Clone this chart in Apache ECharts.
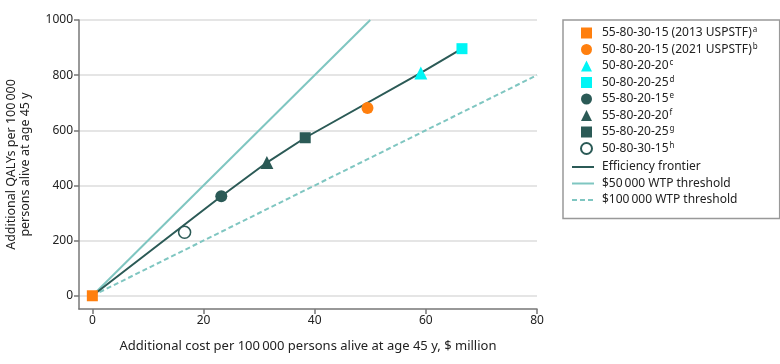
<!DOCTYPE html>
<html>
<head>
<meta charset="utf-8">
<script src="https://cdn.jsdelivr.net/npm/echarts@6/dist/echarts.min.js"></script>
<style>
  html, body { margin: 0; padding: 0; background: #fff; }
  #chart { width: 780px; height: 364px; }
</style>
</head>
<body>
<div id="chart"></div>
<script>
// screening schemes and their outcomes
const schemeNames = [
  "55-80-30-15 (2013 USPSTF)",
  "50-80-20-15 (2021 USPSTF)",
  "50-80-20-20",
  "50-80-20-25",
  "55-80-20-15",
  "55-80-20-20",
  "55-80-20-25",
  "50-80-30-15"
];
const schemeNotes = ["a", "b", "c", "d", "e", "f", "g", "h"];
const schemeCost = [0, 49.5, 59.1, 66.5, 23.2, 31.4, 38.3, 16.6];
const schemeQaly = [0, 681, 808, 896, 361, 483, 573, 230];

// which schemes sit on the efficiency frontier, in order
const frontierIdx = [0, 4, 5, 6, 2, 3];

// willingness-to-pay threshold lines
const wtp50Cost = [0, 50];
const wtp50Qaly = [0, 1000];
const wtp100Cost = [0, 80];
const wtp100Qaly = [0, 800];

const xTicks = [0, 20, 40, 60, 80];
const yTicks = [0, 200, 400, 600, 800, 1000];

const lineNames = [
  "Efficiency frontier",
  "$50\u2009000 WTP threshold",
  "$100\u2009000 WTP threshold"
];

const ORANGE = "#ff7f0e";
const CYAN = "#00f5f5";
const TEAL = "#2b5a56";
const LIGHT = "#7fc6c1";
const FONT = "Noto Sans";
const TXT = "#222";

const markerStyle = [
  { symbol: "rect", color: ORANGE },
  { symbol: "circle", color: ORANGE },
  { symbol: "triangle", color: CYAN },
  { symbol: "rect", color: CYAN },
  { symbol: "circle", color: TEAL },
  { symbol: "triangle", color: TEAL },
  { symbol: "rect", color: TEAL },
  { symbol: "circle", color: "#fff", border: TEAL }
];

const chart = echarts.init(document.getElementById("chart"), null, { renderer: "canvas" });

const series = [];

series.push({
  name: lineNames[0],
  type: "line",
  data: frontierIdx.map(i => [schemeCost[i], schemeQaly[i]]),
  symbol: "none",
  lineStyle: { color: TEAL, width: 2 },
  itemStyle: { color: TEAL },
  z: 3
});
series.push({
  name: lineNames[1],
  type: "line",
  data: wtp50Cost.map((c, i) => [c, wtp50Qaly[i]]),
  symbol: "none",
  lineStyle: { color: LIGHT, width: 2 },
  itemStyle: { color: LIGHT },
  z: 2
});
series.push({
  name: lineNames[2],
  type: "line",
  data: wtp100Cost.map((c, i) => [c, wtp100Qaly[i]]),
  symbol: "none",
  lineStyle: { color: LIGHT, width: 2, type: [5, 3] },
  itemStyle: { color: LIGHT },
  z: 2
});

schemeNames.forEach((name, i) => {
  const m = markerStyle[i];
  series.push({
    name: name,
    type: "scatter",
    data: [[schemeCost[i], schemeQaly[i]]],
    symbol: m.symbol,
    symbolSize: m.symbol === "triangle" ? 13 : (m.symbol === "rect" ? 11 : 12),
    itemStyle: {
      color: m.color,
      borderColor: m.border || m.color,
      borderWidth: m.border ? 1.5 : 0,
      opacity: 1
    },
    z: 5
  });
});

const rich = {
  n: { fontSize: 12, fontFamily: FONT, color: TXT, lineHeight: 14 },
  s: { fontSize: 8, fontFamily: FONT, color: TXT, padding: [0, 0, 6, 1], lineHeight: 14 }
};

chart.setOption({
  animation: false,
  backgroundColor: "#fff",
  textStyle: { fontFamily: FONT },
  grid: {
    left: 79, right: 243, top: 20, bottom: 55,
    containLabel: false,
    outerBoundsMode: "none"
  },
  legend: [
    {
      // markers, drawn with the box round the whole legend
      orient: "vertical",
      left: 563,
      top: 20,
      data: schemeNames,
      itemWidth: 11,
      itemHeight: 11,
      itemGap: 2.5,
      padding: [6, 22, 63, 17],
      borderColor: "#999",
      borderWidth: 1.5,
      selectedMode: false,
      textStyle: { color: TXT, fontSize: 12, fontFamily: FONT, padding: [0, 0, 0, 5], rich: rich },
      formatter: function (name) {
        const i = schemeNames.indexOf(name);
        return "{n|" + name + "}{s|" + schemeNotes[i] + "}";
      }
    },
    {
      // lines, sitting inside the same box
      orient: "vertical",
      left: 571,
      top: 160,
      data: lineNames.map(n => ({ name: n, itemStyle: { opacity: 0 } })),
      itemWidth: 22,
      itemHeight: 11,
      itemGap: 2.5,
      padding: 0,
      selectedMode: false,
      textStyle: { color: TXT, fontSize: 12, fontFamily: FONT, padding: [0, 0, 0, 3], lineHeight: 14 }
    }
  ],
  xAxis: {
    type: "value",
    min: -2.4,
    max: 80,
    name: "Additional cost per 100\u2009000 persons alive at age 45 y, $ million",
    nameLocation: "middle",
    nameGap: 31,
    nameTextStyle: { color: TXT, fontSize: 13, fontFamily: FONT },
    axisLine: { show: true, onZero: false, lineStyle: { color: "#777", width: 1.5 } },
    axisTick: { show: true, length: 5, customValues: xTicks, lineStyle: { color: "#777", width: 1.5 } },
    axisLabel: { customValues: xTicks, color: TXT, fontSize: 12, margin: 6 },
    splitLine: { show: false }
  },
  yAxis: {
    type: "value",
    min: -48,
    max: 1000,
    name: "Additional QALYs per 100\u2009000\npersons alive at age 45 y",
    nameLocation: "middle",
    nameGap: 47,
    nameTextStyle: { color: TXT, fontSize: 12.5, fontFamily: FONT, lineHeight: 14 },
    axisLine: { show: true, onZero: false, lineStyle: { color: "#777", width: 1.5 } },
    axisTick: { show: true, length: 5, customValues: yTicks, lineStyle: { color: "#777", width: 1.5 } },
    axisLabel: {
      customValues: yTicks,
      color: TXT,
      fontSize: 12,
      margin: 6,
      formatter: v => String(v)
    },
    splitLine: { show: true, lineStyle: { color: "#ddd", width: 1.5 } }
  },
  series: series
});
</script>
</body>
</html>
